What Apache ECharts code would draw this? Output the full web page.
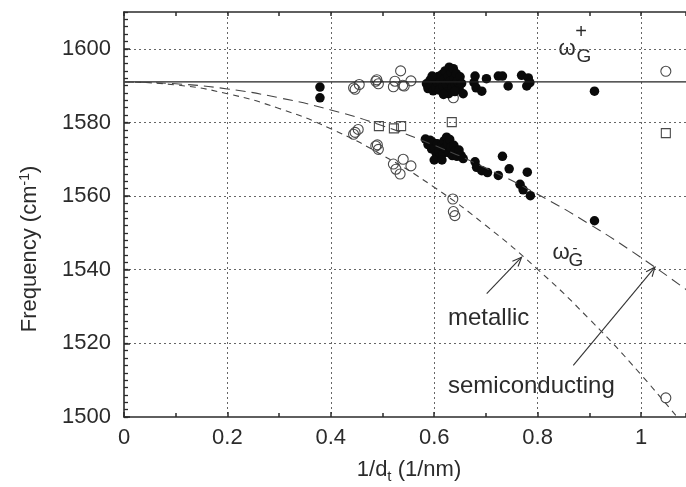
<!DOCTYPE html>
<html><head><meta charset="utf-8">
<script src="https://cdn.jsdelivr.net/npm/echarts@6/dist/echarts.min.js"></script>
<style>html,body{margin:0;padding:0;background:#fff}#c{width:686px;height:487px}</style>
</head><body><div id="c"></div>
<script>
// ---- data ----
const xTickLabels = ['0', '0.2', '0.4', '0.6', '0.8', '1'];
const yTickLabels = ['1500', '1520', '1540', '1560', '1580', '1600'];

// reference lines
const curveX = [0, 0.1, 0.2, 0.3, 0.4, 0.5, 0.6, 0.7, 0.8, 0.9, 1.0, 1.1];
const metallicY = [1591, 1590.2, 1587.8, 1583.8, 1578.3, 1571.1, 1562.4, 1552.0, 1540.1, 1526.6, 1511.5, 1494.8];
const semiY = [1591, 1590.5, 1589.1, 1586.7, 1583.4, 1579.1, 1573.8, 1567.6, 1560.5, 1552.4, 1543.3, 1533.3];
const plusX = [0, 1.1];
const plusY = [1591, 1591];

// filled circles
const filledPts = [
  [0.379,1589.6],[0.379,1586.7],
  [0.585,1590.5],[0.588,1589.2],[0.592,1591.5],[0.595,1590.0],[0.598,1588.6],[0.600,1591.8],
  [0.603,1589.5],[0.606,1590.8],[0.608,1592.5],[0.610,1588.8],[0.612,1591.0],[0.615,1593.0],
  [0.617,1589.8],[0.619,1591.8],[0.621,1594.0],[0.623,1590.5],[0.625,1588.2],[0.627,1592.6],
  [0.629,1595.0],[0.631,1591.2],[0.633,1593.6],[0.635,1589.6],[0.637,1594.6],[0.639,1592.0],
  [0.641,1590.4],[0.643,1593.2],[0.645,1591.2],[0.648,1589.2],[0.650,1592.4],[0.653,1590.6],
  [0.628,1587.8],[0.640,1588.4],[0.596,1592.6],[0.618,1587.6],
  [0.656,1587.8],[0.679,1592.6],[0.677,1590.8],[0.681,1589.4],[0.692,1588.5],[0.701,1591.9],
  [0.724,1592.6],[0.732,1592.6],[0.743,1589.9],[0.769,1592.8],[0.782,1592.1],[0.779,1589.9],
  [0.785,1590.8],[0.910,1588.5],
  [0.583,1575.5],[0.588,1574.0],[0.592,1575.2],[0.595,1572.8],[0.598,1574.5],[0.601,1573.0],
  [0.604,1571.6],[0.606,1574.2],[0.609,1572.2],[0.611,1570.6],[0.614,1573.6],[0.617,1571.5],
  [0.619,1575.0],[0.621,1573.0],[0.624,1576.0],[0.626,1574.2],[0.628,1571.8],[0.630,1575.4],
  [0.632,1573.2],[0.635,1571.0],[0.638,1573.8],[0.641,1572.3],[0.644,1570.8],[0.648,1572.5],
  [0.652,1571.0],[0.656,1570.2],[0.600,1569.8],[0.615,1569.8],
  [0.679,1569.3],[0.682,1567.8],[0.692,1566.9],[0.703,1566.4],[0.724,1565.6],[0.732,1570.8],
  [0.745,1567.4],[0.780,1566.5],[0.766,1563.2],[0.772,1561.7],[0.786,1560.1],[0.910,1553.3]
];

// open circles
const openPts = [
  [0.444,1589.4],[0.455,1590.3],[0.447,1589.0],[0.487,1591.2],[0.492,1590.5],[0.489,1591.6],
  [0.521,1589.7],[0.524,1591.2],[0.535,1594.0],[0.539,1590.1],[0.542,1589.9],[0.555,1591.3],
  [0.637,1586.7],[0.634,1589.4],[1.048,1593.9],
  [0.444,1576.8],[0.453,1578.1],[0.447,1577.3],[0.487,1573.6],[0.492,1572.7],[0.490,1573.9],
  [0.521,1568.7],[0.526,1567.3],[0.534,1566.0],[0.540,1570.0],[0.555,1568.2],
  [0.636,1559.2],[0.640,1554.7],[0.637,1555.8],[1.048,1505.2]
];

// open squares
const squarePts = [[0.493,1579.0],[0.522,1578.4],[0.536,1579.0],[0.634,1580.1],[1.048,1577.1]];

// annotation arrows [x0, y0, x1(tip), y1(tip)]
const arrows = [[0.7015,1533.5,0.769,1543.4],[0.869,1514.0,1.027,1540.7]];

// ---- chart ----
const F = '"Liberation Sans", Arial, sans-serif';
const TXT = '#2b2b2b';
const AX = '#2b2b2b';
const X_MAX = 1.087, Y_MIN = 1500, Y_MAX = 1610;

const chart = echarts.init(document.getElementById('c'));

function zipXY(xs, ys) { return xs.map((x, i) => [x, ys[i]]); }

const lineAxis = { show: true, lineStyle: { color: AX, width: 1.6 } };

const option = {
  animation: false,
  grid: { left: 124, top: 12, right: 0, bottom: 70, containLabel: false },
  xAxis: [
    { type: 'value', min: 0, max: X_MAX, interval: 0.2, position: 'bottom',
      axisLine: lineAxis,
      axisTick: { show: true, inside: true, length: 5, lineStyle: { color: AX, width: 1.5 } },
      axisLabel: { fontSize: 22, color: TXT, fontFamily: F, margin: 10, showMaxLabel: false,
        formatter: v => { const i = Math.round(v / 0.2); return Math.abs(v - i * 0.2) < 1e-6 ? (xTickLabels[i] || '') : ''; } },
      splitLine: { show: true, showMinLine: false, showMaxLine: false, lineStyle: { type: [2, 3], color: '#666', width: 1 } } },
    { type: 'value', min: 0, max: X_MAX, interval: 0.1, position: 'bottom', gridIndex: 0,
      axisLine: { show: false }, axisTick: { show: true, inside: true, length: 4, lineStyle: { color: AX, width: 1.5 } },
      axisLabel: { show: false }, splitLine: { show: false } },
    { type: 'value', min: 0, max: X_MAX, interval: 0.1, position: 'top',
      axisLine: lineAxis, axisTick: { show: true, inside: true, length: 4, lineStyle: { color: AX, width: 1.5 } },
      axisLabel: { show: false }, splitLine: { show: false } }
  ],
  yAxis: [
    { type: 'value', min: Y_MIN, max: Y_MAX, interval: 20, position: 'left',
      axisLine: lineAxis,
      axisTick: { show: true, inside: true, length: 6, lineStyle: { color: AX, width: 1.5 } },
      axisLabel: { fontSize: 22, color: TXT, fontFamily: F, margin: 13, showMaxLabel: false,
        formatter: v => { const i = Math.round((v - Y_MIN) / 20); return yTickLabels[i] || ''; } },
      splitLine: { show: true, showMinLine: false, showMaxLine: false, lineStyle: { type: [2, 3], color: '#666', width: 1 } } },
    { type: 'value', min: Y_MIN, max: Y_MAX, interval: 2, position: 'left',
      axisLine: { show: false }, axisTick: { show: true, inside: true, length: 4, lineStyle: { color: AX, width: 1.3 } },
      axisLabel: { show: false }, splitLine: { show: false } }
  ],
  series: [
    { type: 'line', data: zipXY(plusX, plusY), symbol: 'none', silent: true,
      lineStyle: { color: '#222', width: 1.2 } },
    { type: 'line', data: zipXY(curveX, semiY), symbol: 'none', smooth: true, silent: true,
      lineStyle: { color: '#444', width: 1.1, type: [10, 6] } },
    { type: 'line', data: zipXY(curveX, metallicY), symbol: 'none', smooth: true, silent: true,
      lineStyle: { color: '#444', width: 1.1, type: [6, 5] } },
    { type: 'custom', silent: true, data: arrows,
      renderItem: (params, api) => {
        const p0 = api.coord([api.value(0), api.value(1)]);
        const p1 = api.coord([api.value(2), api.value(3)]);
        const ang = Math.atan2(p1[1] - p0[1], p1[0] - p0[0]);
        const L = 10, a = 0.4;
        const h1 = [p1[0] - L * Math.cos(ang - a), p1[1] - L * Math.sin(ang - a)];
        const h2 = [p1[0] - L * Math.cos(ang + a), p1[1] - L * Math.sin(ang + a)];
        return { type: 'group', children: [
          { type: 'line', shape: { x1: p0[0], y1: p0[1], x2: p1[0], y2: p1[1] }, style: { stroke: '#333', lineWidth: 1.1 } },
          { type: 'polyline', shape: { points: [h1, p1, h2] }, style: { stroke: '#333', fill: null, lineWidth: 1.1 } }
        ]};
      } },
    { type: 'scatter', data: openPts, symbol: 'circle', symbolSize: 10, silent: true,
      itemStyle: { color: 'rgba(255,255,255,0)', borderColor: '#4a4a4a', borderWidth: 1.1, opacity: 1 } },
    { type: 'scatter', data: squarePts, symbol: 'rect', symbolSize: 9, silent: true,
      itemStyle: { color: 'rgba(255,255,255,0)', borderColor: '#4a4a4a', borderWidth: 1.1, opacity: 1 } },
    { type: 'scatter', data: filledPts, symbol: 'circle', symbolSize: 9.5, silent: true,
      itemStyle: { color: '#0a0a0a', opacity: 1 } }
  ],
  graphic: [
    { type: 'text', x: 30, y: 249, rotation: Math.PI / 2,
      style: { text: 'Frequency (cm{s|-1})', fontSize: 22, fontFamily: F, fill: TXT, align: 'center', verticalAlign: 'middle',
        rich: { s: { fontSize: 14, fontFamily: F, fill: TXT, verticalAlign: 'top', padding: [0, 0, 10, 0] } } } },
    { type: 'text', x: 409, y: 470,
      style: { text: '1/d{s|t} (1/nm)', fontSize: 22, fontFamily: F, fill: TXT, align: 'center', verticalAlign: 'middle',
        rich: { s: { fontSize: 15, fontFamily: F, fill: TXT, padding: [14, 0, 0, 0] } } } },
    { type: 'text', x: 567, y: 49, style: { text: 'ω', fontSize: 22, fontFamily: F, fill: TXT, align: 'center', verticalAlign: 'middle' } },
    { type: 'text', x: 581, y: 32, style: { text: '+', fontSize: 20, fontFamily: F, fill: TXT, align: 'center', verticalAlign: 'middle' } },
    { type: 'text', x: 584, y: 57, style: { text: 'G', fontSize: 19, fontFamily: F, fill: TXT, align: 'center', verticalAlign: 'middle' } },
    { type: 'text', x: 561, y: 253, style: { text: 'ω', fontSize: 22, fontFamily: F, fill: TXT, align: 'center', verticalAlign: 'middle' } },
    { type: 'text', x: 575, y: 249, style: { text: '-', fontSize: 15, fontFamily: F, fill: TXT, align: 'center', verticalAlign: 'middle' } },
    { type: 'text', x: 576, y: 261, style: { text: 'G', fontSize: 19, fontFamily: F, fill: TXT, align: 'center', verticalAlign: 'middle' } },
    { type: 'text', x: 448, y: 318, style: { text: 'metallic', fontSize: 24, fontFamily: F, fill: TXT, align: 'left', verticalAlign: 'middle' } },
    { type: 'text', x: 448, y: 386, style: { text: 'semiconducting', fontSize: 24, fontFamily: F, fill: TXT, align: 'left', verticalAlign: 'middle' } }
  ]
};
chart.setOption(option);
</script>
</body></html>
